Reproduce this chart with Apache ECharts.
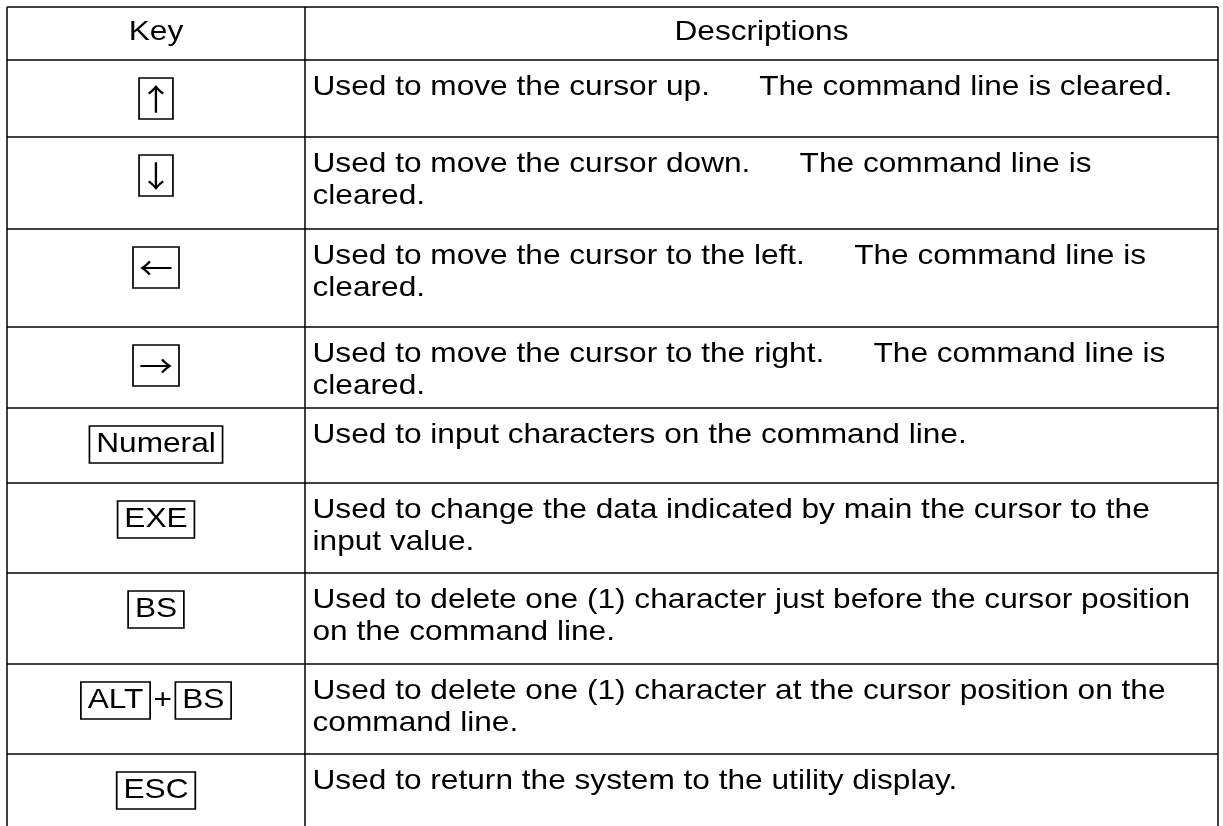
<!DOCTYPE html>
<html><head><meta charset="utf-8">
<script src="https://cdn.jsdelivr.net/npm/echarts@6/dist/echarts.min.js"></script>
<style>html,body{margin:0;padding:0;background:#fff;}#main{width:1223px;height:826px;}</style>
</head><body><div id="main"></div>
<script>
// ---- table content ----
const headers = ['Key', 'Descriptions'];
const keys = [
  ['↑'], ['↓'], ['←'], ['→'], ['Numeral'], ['EXE'], ['BS'], ['ALT', '+', 'BS'], ['ESC']
];
const descriptions = [
  'Used to move the cursor up. \u3000 The command line is cleared.',
  'Used to move the cursor down. \u3000 The command line is\ncleared.',
  'Used to move the cursor to the left. \u3000 The command line is\ncleared.',
  'Used to move the cursor to the right. \u3000 The command line is\ncleared.',
  'Used to input characters on the command line.',
  'Used to change the data indicated by main the cursor to the\ninput value.',
  'Used to delete one (1) character just before the cursor position\non the command line.',
  'Used to delete one (1) character at the cursor position on the\ncommand line.',
  'Used to return the system to the utility display.'
];

// ---- layout (pixels) ----
const W = 1223, H = 826;
const rowEdges = [7, 60, 137, 229, 327, 408, 483, 573, 664, 754, 826];
const colEdges = [7, 305, 1218];
const FS = 28, FF = '"Liberation Sans", Arial, Helvetica, sans-serif';
const AF = '"Noto Sans CJK JP", "Noto Sans CJK SC", sans-serif';
const FONT = FS + 'px ' + FF;
const SX = 1.13;
const LW = 1.5;

const rows = [headers].concat(keys.map((k, i) => [k, descriptions[i]]));

function richKey(tokens) {
  return tokens.map(t => {
    if (t === '+') return '{p|+}';
    if (t === '↑' || t === '↓') return '{v|' + t + '}';
    if (t === '←' || t === '→') return '{h|' + t + '}';
    return '{k|' + t + '}';
  }).join('');
}

const richStyles = {
  k: { fontSize: FS, fontFamily: FF, color: '#000', borderColor: '#000', borderWidth: LW,
       padding: [3, 6, 3, 6], height: 31, lineHeight: 37 },
  v: { fontSize: 30, fontFamily: AF, color: '#000', borderColor: '#000', borderWidth: LW,
       padding: [3, 1, 3, 1], width: 28, height: 35, lineHeight: 41, align: 'center' },
  h: { fontSize: 30, fontFamily: AF, color: '#000', borderColor: '#000', borderWidth: LW,
       padding: [3, 6, 3, 6], width: 28.7, height: 35, lineHeight: 41, align: 'center' },
  p: { fontSize: FS, fontFamily: FF, color: '#000', padding: [3, 3, 3, 3], height: 31, lineHeight: 37 }
};

function renderItem(params, api) {
  const i = params.dataIndex;
  const top = rowEdges[i], bot = rowEdges[i + 1];
  const P = (x, y) => api.coord([x, y]);
  const ls = { stroke: '#000', lineWidth: LW };
  const children = [];
  colEdges.forEach(cx => {
    const a = P(cx, top), b = P(cx, bot);
    children.push({ type: 'line', shape: { x1: a[0], y1: a[1], x2: b[0], y2: b[1] }, style: ls });
  });
  const tl = P(colEdges[0], top), tr = P(colEdges[2], top);
  children.push({ type: 'line', shape: { x1: tl[0], y1: tl[1], x2: tr[0], y2: tr[1] }, style: ls });
  const row = rows[i];
  const keyMid = P((colEdges[0] + colEdges[1]) / 2, top);
  const descMid = P((colEdges[1] + colEdges[2]) / 2, top);
  if (i === 0) {
    const ym = P(0, (top + bot) / 2 - 0.8)[1];
    children.push({ type: 'text', x: keyMid[0], y: ym, scaleX: SX,
      style: { text: row[0], font: FONT, fill: '#000', align: 'center', verticalAlign: 'middle' } });
    children.push({ type: 'text', x: descMid[0], y: ym, scaleX: SX,
      style: { text: row[1], font: FONT, fill: '#000', align: 'center', verticalAlign: 'middle' } });
  } else {
    const ky = P(0, top + 18)[1];
    children.push({ type: 'text', x: keyMid[0], y: ky, scaleX: SX,
      style: { text: richKey(row[0]), font: FONT, fill: '#000', align: 'center', verticalAlign: 'top', rich: richStyles } });
    const d = P(colEdges[1] + 7.5, top + 11.7);
    children.push({ type: 'text', x: d[0], y: d[1], scaleX: SX,
      style: { text: row[1], font: FONT, fill: '#000', lineHeight: 32, align: 'left', verticalAlign: 'top' } });
  }
  return { type: 'group', children };
}

const chart = echarts.init(document.getElementById('main'), null, { renderer: 'canvas' });
chart.setOption({
  animation: false,
  backgroundColor: '#fff',
  grid: { left: 0, right: 0, top: 0, bottom: 0 },
  xAxis: { type: 'value', min: 0, max: W, show: false },
  yAxis: { type: 'value', min: 0, max: H, inverse: true, show: false },
  series: [{
    type: 'custom',
    silent: true,
    renderItem: renderItem,
    encode: { x: 0, y: 1 },
    data: rows.map((r, i) => [0, i])
  }]
});
</script>
</body></html>
